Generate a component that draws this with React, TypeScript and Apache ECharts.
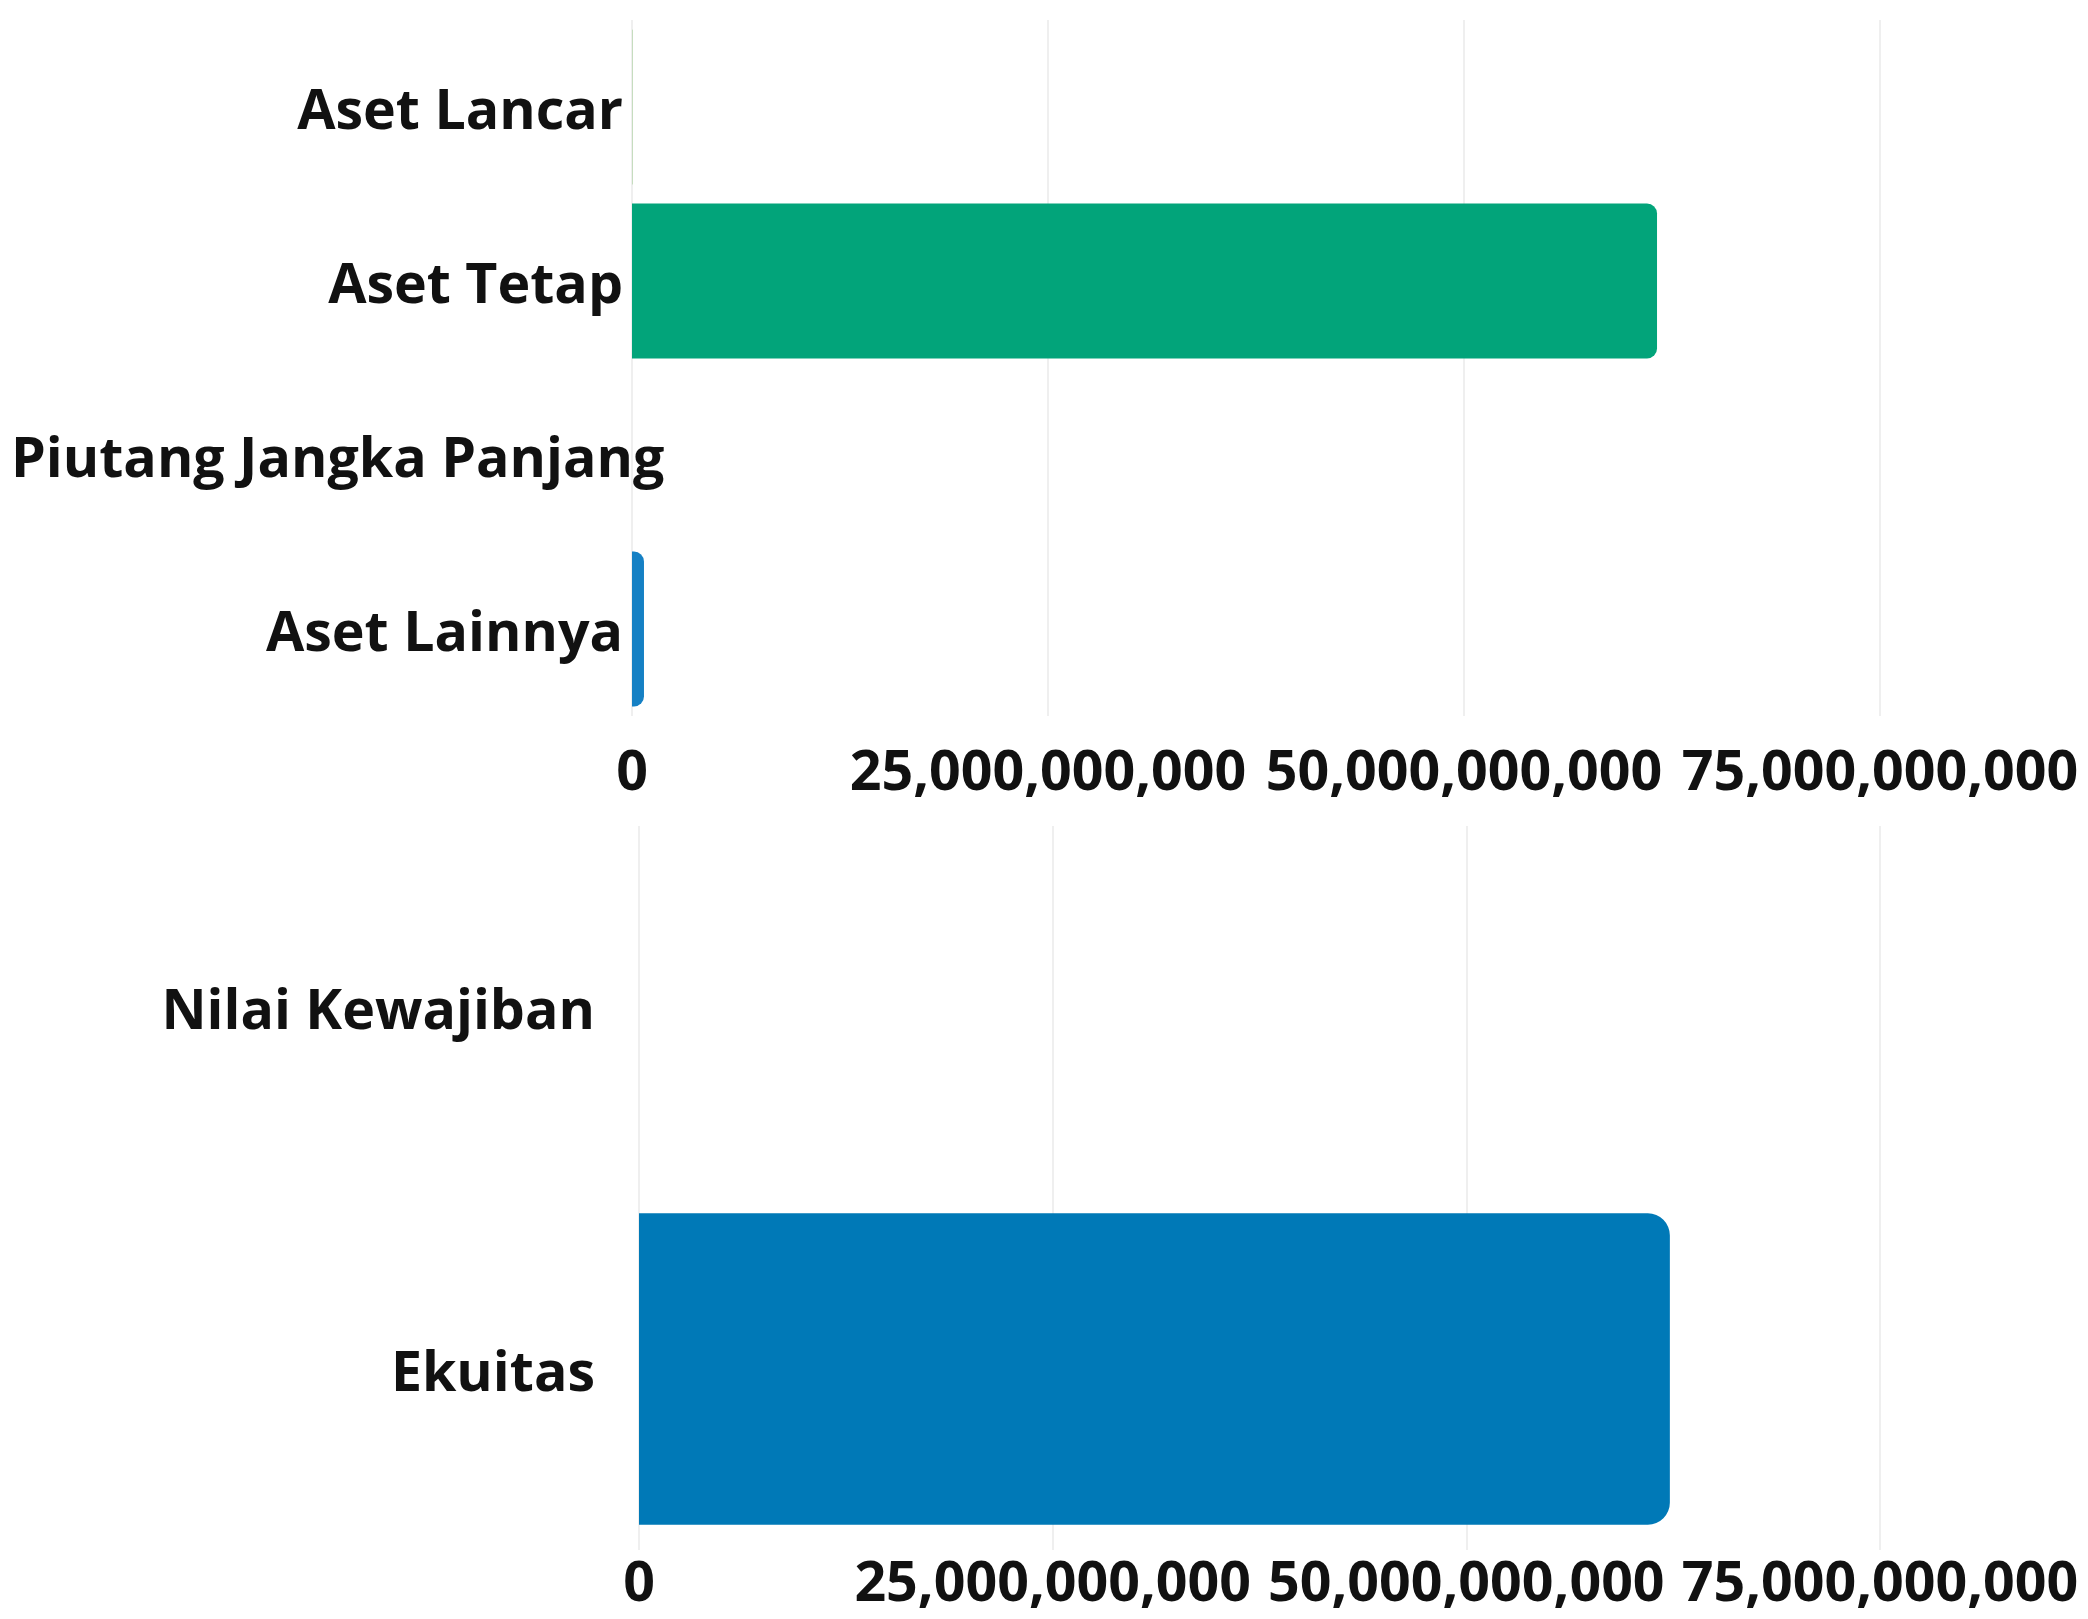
import React, { useEffect, useRef } from "react";
import * as echarts from "echarts";

const topCategories = ["Aset Lancar", "Aset Tetap", "Piutang Jangka Panjang", "Aset Lainnya"];
const topValues = [30000000, 61600000000, 0, 720000000];
const topColors = ["#9CCB8F", "#02A47A", "#02A47A", "#1580C4"];

const bottomCategories = ["Nilai Kewajiban", "Ekuitas"];
const bottomValues = [0, 62300000000];
const bottomColors = ["#0079B7", "#0079B7"];

const axisMin = 0;
const axisMax = 75000000000;
const axisInterval = 25000000000;

const FONT = "'Open Sans', 'Noto Sans', sans-serif";
const LONG_LABEL = "Piutang Jangka Panjang";
const FS = 55.5;

export default function App() {
  const ref = useRef<HTMLDivElement>(null);

  useEffect(() => {
    if (!ref.current) return;
    const chart = echarts.init(ref.current, null, { renderer: "svg" });

    const valueAxisBase = (gridIndex: number, margin: number) => ({
      type: "value" as const,
      gridIndex,
      min: axisMin,
      max: axisMax,
      interval: axisInterval,
      axisLine: { show: false },
      axisTick: { show: false },
      splitLine: { show: true, lineStyle: { color: "#EFEFEF", width: 2 } },
      axisLabel: {
        color: "#111",
        fontFamily: FONT,
        fontWeight: "bold" as const,
        fontSize: FS,
        lineHeight: 50,
        margin,
        formatter: (v: number) => v.toLocaleString("en-US"),
      },
    });

    const labelText = {
      color: "#111",
      fontFamily: FONT,
      fontWeight: "bold" as const,
      fontSize: FS,
    };

    chart.setOption({
      animation: false,
      backgroundColor: "#ffffff",
      grid: [
        { left: 632, right: 208, top: 20, height: 696 },
        { left: 639, right: 208, top: 826, height: 724 },
      ],
      xAxis: [valueAxisBase(0, 27), valueAxisBase(1, 4)],
      yAxis: [
        {
          type: "category",
          gridIndex: 0,
          inverse: true,
          data: topCategories,
          axisLine: { show: false },
          axisTick: { show: false },
          axisLabel: {
            align: "left",
            margin: 621,
            ...labelText,
            formatter: (v: string) => (v === LONG_LABEL ? `{w|${v}}` : `{n|${v}}`),
            rich: {
              n: { width: 612, align: "right", ...labelText },
              w: { ...labelText },
            },
          },
        },
        {
          type: "category",
          gridIndex: 1,
          inverse: true,
          data: bottomCategories,
          axisLine: { show: false },
          axisTick: { show: false },
          axisLabel: {
            align: "right",
            margin: 44,
            ...labelText,
          },
        },
      ],
      series: [
        {
          type: "bar",
          xAxisIndex: 0,
          yAxisIndex: 0,
          barCategoryGap: "11%",
          data: topValues.map((v, i) => ({
            value: v,
            itemStyle: { color: topColors[i], borderRadius: [0, 10, 10, 0] },
          })),
        },
        {
          type: "bar",
          xAxisIndex: 1,
          yAxisIndex: 1,
          barCategoryGap: "14%",
          data: bottomValues.map((v, i) => ({
            value: v,
            itemStyle: { color: bottomColors[i], borderRadius: [0, 22, 22, 0] },
          })),
        },
      ],
    });

    return () => chart.dispose();
  }, []);

  return (
    <div
      ref={ref}
      style={{ position: "fixed", left: 0, top: 0, width: 2088, height: 1619 }}
    />
  );
}
